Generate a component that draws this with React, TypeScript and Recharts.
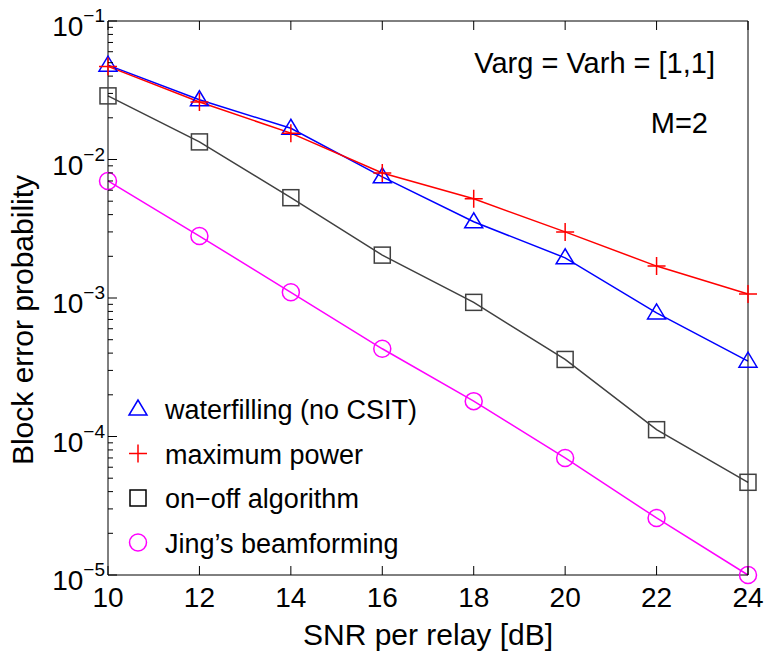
import { Line, LineChart, XAxis, YAxis } from "recharts";

const snr = [10, 12, 14, 16, 18, 20, 22, 24];
const waterfilling = [0.048, 0.027, 0.0168, 0.0075, 0.00355, 0.00195, 0.00078, 0.00035];
const maximumPower = [0.047, 0.026, 0.0155, 0.008, 0.0052, 0.003, 0.0017, 0.00107];
const onOff = [0.0288, 0.0134, 0.0053, 0.00204, 0.00093, 0.00036, 0.000112, 0.0000467];
const jing = [0.007, 0.0028, 0.0011, 0.00043, 0.00018, 0.00007, 0.0000258, 0.00001];

const xTicks = [10, 12, 14, 16, 18, 20, 22, 24];
const decades = [-5, -4, -3, -2];
const mantissas = [1, 2, 3, 4, 5, 6, 7, 8, 9];
const yTicks = [...decades.flatMap((d) => mantissas.map((m) => m * Math.pow(10, d))), 0.1];

const legendLabels = ["waterfilling (no CSIT)", "maximum power", "on\u2212off algorithm", "Jing\u2019s beamforming"];
const annotations = ["Varg = Varh = [1,1]", "M=2"];

const data = snr.map((s, i) => ({
  snr: s,
  wf: waterfilling[i],
  mp: maximumPower[i],
  oo: onOff[i],
  jb: jing[i],
}));

const FONT = '"Liberation Sans", Arial, Helvetica, sans-serif';
const W = 767;
const H = 656;
const LEFT = 108;
const RIGHT = 19;
const TOP = 21;
const BOTTOM = 81;

const isMajor = (v: number) => Math.abs(Math.log10(v) - Math.round(Math.log10(v))) < 1e-6;

const Triangle = ({ cx, cy, color }: any) => (
  <polygon
    points={`${cx},${cy - 9} ${cx - 9},${cy + 6} ${cx + 9},${cy + 6}`}
    fill="none"
    stroke={color}
    strokeWidth={1.5}
  />
);
const Plus = ({ cx, cy, color }: any) => (
  <path d={`M${cx - 9},${cy}H${cx + 9}M${cx},${cy - 9}V${cy + 9}`} stroke={color} strokeWidth={1.5} fill="none" />
);
const Square = ({ cx, cy, color }: any) => (
  <rect x={cx - 8} y={cy - 8} width={16} height={16} fill="none" stroke={color} strokeWidth={1.5} />
);
const Circle = ({ cx, cy, color }: any) => (
  <circle cx={cx} cy={cy} r={8.5} fill="none" stroke={color} strokeWidth={1.5} />
);

const series = [
  { key: "wf", color: "#0000ff", legendColor: "#0000ff", Marker: Triangle },
  { key: "mp", color: "#ff0000", legendColor: "#ff0000", Marker: Plus },
  { key: "oo", color: "#404040", legendColor: "#000000", Marker: Square },
  { key: "jb", color: "#ff00ff", legendColor: "#ff00ff", Marker: Circle },
];

const LeftTick = ({ x, y, payload }: any) => {
  const v = payload.value;
  const major = isMajor(v);
  return (
    <g>
      <line x1={x} y1={y} x2={x + (major ? 9 : 5)} y2={y} stroke="#000" strokeWidth={1} />
      {major && (
        <text x={x - 3} y={y + 15} textAnchor="end" fontSize={28} fontFamily={FONT} fill="#000">
          10
          <tspan dy={-14} fontSize={19}>
            {"\u2212" + Math.abs(Math.round(Math.log10(v)))}
          </tspan>
        </text>
      )}
    </g>
  );
};

const RightTick = ({ x, y, payload }: any) => {
  const major = isMajor(payload.value);
  return <line x1={x} y1={y} x2={x - (major ? 9 : 5)} y2={y} stroke="#000" strokeWidth={1} />;
};

const BottomTick = ({ x, y, payload }: any) => (
  <g>
    <line x1={x} y1={y} x2={x} y2={y - 9} stroke="#000" strokeWidth={1} />
    <text x={x} y={y + 32} textAnchor="middle" fontSize={28} fontFamily={FONT} fill="#000">
      {payload.value}
    </text>
  </g>
);

const TopTick = ({ x, y }: any) => <line x1={x} y1={y} x2={x} y2={y + 9} stroke="#000" strokeWidth={1} />;

export default function App() {
  return (
    <div style={{ position: "absolute", left: 0, top: 0, width: W, height: H, background: "#fff" }}>
      <LineChart width={W} height={H} data={data} margin={{ top: 0, right: 0, bottom: 0, left: 0 }}>
        <XAxis
          xAxisId="bottom"
          dataKey="snr"
          type="number"
          domain={[10, 24]}
          ticks={xTicks}
          interval={0}
          height={BOTTOM}
          tickSize={0}
          tickMargin={0}
          tickLine={false}
          tick={<BottomTick />}
          axisLine={{ stroke: "#000", strokeWidth: 1 }}
        />
        <XAxis
          xAxisId="top"
          orientation="top"
          dataKey="snr"
          type="number"
          domain={[10, 24]}
          ticks={xTicks}
          interval={0}
          height={TOP}
          tickSize={0}
          tickMargin={0}
          tickLine={false}
          tick={<TopTick />}
          axisLine={{ stroke: "#000", strokeWidth: 1 }}
        />
        <YAxis
          yAxisId="left"
          scale="log"
          type="number"
          domain={[1e-5, 1e-1]}
          ticks={yTicks}
          interval={0}
          width={LEFT}
          tickSize={0}
          tickMargin={0}
          tickLine={false}
          tick={<LeftTick />}
          axisLine={{ stroke: "#000", strokeWidth: 1 }}
        />
        <YAxis
          yAxisId="right"
          orientation="right"
          scale="log"
          type="number"
          domain={[1e-5, 1e-1]}
          ticks={yTicks}
          interval={0}
          width={RIGHT}
          tickSize={0}
          tickMargin={0}
          tickLine={false}
          tick={<RightTick />}
          axisLine={{ stroke: "#000", strokeWidth: 1 }}
        />
        {series.map(({ key, color, Marker }) => (
          <Line
            key={key}
            xAxisId="bottom"
            yAxisId="left"
            type="linear"
            dataKey={key}
            stroke={color}
            strokeWidth={1.5}
            dot={(p: any) => <Marker key={`${key}-${p.index}`} cx={p.cx} cy={p.cy} color={color} />}
            activeDot={false}
            isAnimationActive={false}
          />
        ))}
      </LineChart>
      <svg
        width={W}
        height={H}
        style={{ position: "absolute", left: 0, top: 0, pointerEvents: "none" }}
        fontFamily={FONT}
      >
        <text x={715} y={73} textAnchor="end" fontSize={29} fill="#000">
          {annotations[0]}
        </text>
        <text x={708} y={133} textAnchor="end" fontSize={29} fill="#000">
          {annotations[1]}
        </text>
        {series.map(({ key, legendColor, Marker }, i) => (
          <g key={key}>
            <Marker cx={138} cy={409 + i * 44.5} color={legendColor} />
            <text x={165} y={419 + i * 44.5} fontSize={27} fill="#000">
              {legendLabels[i]}
            </text>
          </g>
        ))}
        <text x={(LEFT + W - RIGHT) / 2} y={645} textAnchor="middle" fontSize={30} fill="#000">
          SNR per relay [dB]
        </text>
        <text
          x={33}
          y={320}
          textAnchor="middle"
          fontSize={30}
          fill="#000"
          transform="rotate(-90, 33, 320)"
        >
          Block error probability
        </text>
      </svg>
    </div>
  );
}
